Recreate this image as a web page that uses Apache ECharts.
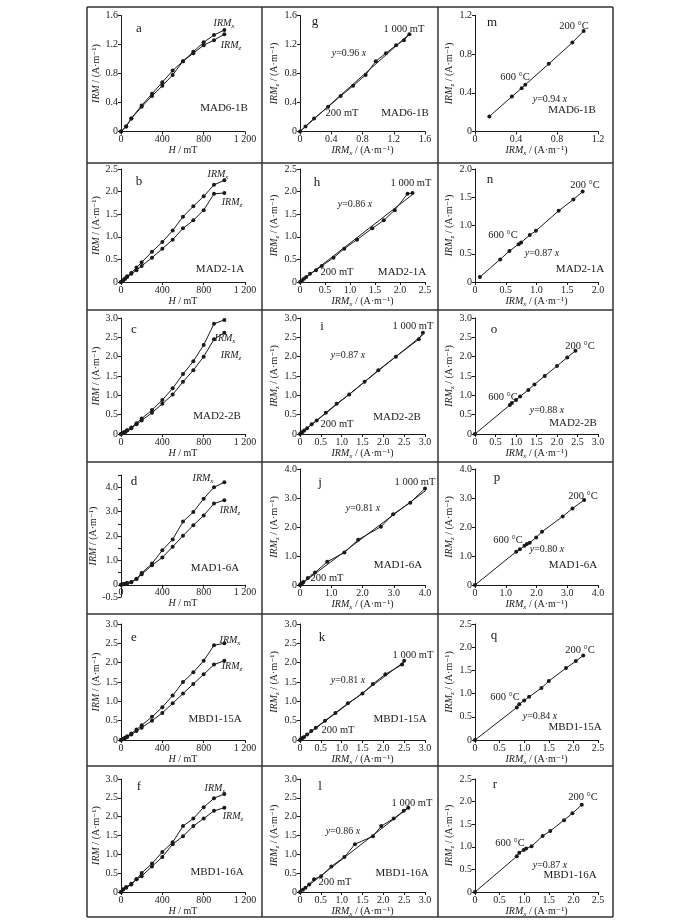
<!DOCTYPE html>
<html><head><meta charset="utf-8">
<script src="https://cdn.jsdelivr.net/npm/echarts@6/dist/echarts.min.js"></script>
<style>html,body{margin:0;padding:0;background:#fff}#c{width:700px;height:924px}</style>
</head><body><div id="c"></div>
<script>
// ---------------- DATA ----------------
const samples = ['MAD6-1B', 'MAD2-1A', 'MAD2-2B', 'MAD1-6A', 'MBD1-15A', 'MBD1-16A'];
const lettersLeft = ['a', 'b', 'c', 'd', 'e', 'f'];
const lettersMid = ['g', 'h', 'i', 'j', 'k', 'l'];
const lettersRight = ['m', 'n', 'o', 'p', 'q', 'r'];

// AF acquisition (H in mT, IRM in A/m)
const H_a = [0, 50, 100, 200, 300, 400, 500, 600, 700, 800, 900, 1000];
const X_a = [0, 0.07, 0.18, 0.36, 0.52, 0.68, 0.84, 0.97, 1.10, 1.23, 1.33, 1.40];
const Z_a = [0, 0.07, 0.18, 0.34, 0.49, 0.63, 0.78, 0.97, 1.08, 1.19, 1.26, 1.34];

const H_b = [0, 20, 40, 60, 100, 150, 200, 300, 400, 500, 600, 700, 800, 900, 1000];
const X_b = [0, 0.04, 0.08, 0.125, 0.2, 0.32, 0.435, 0.67, 0.885, 1.14, 1.445, 1.675, 1.895, 2.15, 2.25];
const Z_b = [0, 0.035, 0.07, 0.11, 0.18, 0.26, 0.354, 0.538, 0.737, 0.937, 1.187, 1.364, 1.59, 1.95, 1.97];

const H_c = [0, 20, 40, 60, 100, 150, 200, 300, 400, 500, 600, 700, 800, 900, 1000];
const X_c = [0, 0.03, 0.06, 0.1, 0.17, 0.28, 0.4, 0.62, 0.88, 1.18, 1.55, 1.88, 2.3, 2.85, 2.95];
const Z_c = [0, 0.03, 0.05, 0.09, 0.15, 0.25, 0.35, 0.55, 0.78, 1.02, 1.35, 1.65, 2.0, 2.45, 2.62];

const H_d = [0, 20, 40, 60, 100, 150, 200, 300, 400, 500, 600, 700, 800, 900, 1000];
const X_d = [0, 0.02, 0.04, 0.07, 0.11, 0.25, 0.48, 0.87, 1.42, 1.86, 2.59, 2.98, 3.53, 4.0, 4.2];
const Z_d = [0, 0.02, 0.04, 0.06, 0.1, 0.24, 0.43, 0.8, 1.12, 1.56, 2.01, 2.44, 2.84, 3.33, 3.47];

const H_e = [0, 20, 40, 60, 100, 150, 200, 300, 400, 500, 600, 700, 800, 900, 1000];
const X_e = [0, 0.03, 0.06, 0.1, 0.17, 0.27, 0.38, 0.6, 0.85, 1.15, 1.5, 1.75, 2.05, 2.45, 2.5];
const Z_e = [0, 0.03, 0.05, 0.08, 0.14, 0.23, 0.32, 0.5, 0.7, 0.95, 1.2, 1.45, 1.7, 1.95, 2.05];

const H_f = [0, 20, 50, 100, 150, 200, 300, 400, 500, 600, 700, 800, 900, 1000];
const X_f = [0, 0.07, 0.13, 0.22, 0.337, 0.506, 0.754, 1.065, 1.32, 1.75, 1.95, 2.25, 2.49, 2.6];
const Z_f = [0, 0.06, 0.11, 0.2, 0.34, 0.42, 0.68, 0.93, 1.27, 1.48, 1.75, 1.95, 2.156, 2.236];

// thermal demagnetization (200 °C ... high T), IRM_x vs IRM_z
const TX_m = [1.06, 0.95, 0.72, 0.49, 0.455, 0.36, 0.14];
const TZ_m = [1.04, 0.92, 0.70, 0.483, 0.448, 0.362, 0.155];
const TX_n = [1.75, 1.60, 1.36, 0.99, 0.89, 0.75, 0.71, 0.56, 0.41, 0.08];
const TZ_n = [1.60, 1.46, 1.26, 0.905, 0.83, 0.70, 0.67, 0.55, 0.40, 0.089];
const TX_o = [2.45, 2.25, 2.0, 1.7, 1.45, 1.3, 1.1, 1.0, 0.9, 0.85, 0];
const TZ_o = [2.15, 1.98, 1.76, 1.5, 1.28, 1.14, 0.97, 0.88, 0.8, 0.75, 0];
const TX_p = [3.55, 3.17, 2.85, 2.18, 1.99, 1.78, 1.69, 1.61, 1.46, 1.34, 0];
const TZ_p = [2.93, 2.64, 2.36, 1.84, 1.64, 1.46, 1.41, 1.35, 1.23, 1.15, 0];
const TX_q = [2.2, 2.05, 1.85, 1.5, 1.35, 1.1, 1.0, 0.9, 0.85, 0];
const TZ_q = [1.82, 1.7, 1.55, 1.27, 1.12, 0.93, 0.85, 0.77, 0.7, 0];
const TX_r = [2.17, 1.98, 1.81, 1.53, 1.375, 1.15, 1.04, 0.99, 0.90, 0.85, 0];
const TZ_r = [1.93, 1.74, 1.59, 1.35, 1.24, 1.01, 0.96, 0.93, 0.87, 0.79, 0];

// fitted slopes
const slopeMid = [0.96, 0.86, 0.87, 0.81, 0.81, 0.86];
const slopeRight = [0.94, 0.87, 0.88, 0.80, 0.84, 0.87];

// axis ranges / tick intervals
const leftYMin = [0, 0, 0, -0.5, 0, 0];
const leftYMax = [1.6, 2.5, 3.0, 4.5, 3.0, 3.0];
const leftYInt = [0.4, 0.5, 0.5, 0.5, 0.5, 0.5];
const hMax = 1200, hInt = 400;
const midMax = [1.6, 2.5, 3.0, 4.0, 3.0, 3.0];
const midInt = [0.4, 0.5, 0.5, 1.0, 0.5, 0.5];
const rightMax = [1.2, 2.0, 3.0, 4.0, 2.5, 2.5];
const rightInt = [0.4, 0.5, 0.5, 1.0, 0.5, 0.5];

const HS = [H_a, H_b, H_c, H_d, H_e, H_f];
const XS = [X_a, X_b, X_c, X_d, X_e, X_f];
const ZS = [Z_a, Z_b, Z_c, Z_d, Z_e, Z_f];
const TXS = [TX_m, TX_n, TX_o, TX_p, TX_q, TX_r];
const TZS = [TZ_m, TZ_n, TZ_o, TZ_p, TZ_q, TZ_r];

// ---------------- LAYOUT ----------------
const FONT = '"Liberation Serif","DejaVu Serif","Times New Roman",serif';
const INK = '#1a1a1a';
const colLeft = [121, 300, 475];
const colW = [124, 125, 123];
const rowTop = [15.5, 169, 318, 469, 624, 779];
const rowH = [116, 113, 116, 116, 116, 113];
const frameX = [87, 262, 438, 613];
const frameY = [7, 163, 310, 462, 614, 766, 917];

// annotation positions per row: [left, mid, right] panels
const ann = [
  { L: {let: [139, 29], ix: [224, 23], iz: [231, 45], s: [224, 108]},
    M: {let: [315, 22], top: [404, 29], sl: [349, 53], low: [342, 113], s: [405, 113]},
    R: {let: [492, 23], top: [574, 26], low: [515, 77], sl: [550, 99], s: [572, 110]} },
  { L: {let: [139, 182], ix: [218, 174], iz: [232, 202], s: [220, 269]},
    M: {let: [317, 183], top: [411, 183], sl: [355, 204], low: [337, 272], s: [402, 272]},
    R: {let: [490, 180], top: [585, 185], low: [503, 235], sl: [542, 253], s: [580, 269]} },
  { L: {let: [134, 330], ix: [225, 338], iz: [231, 355], s: [217, 416]},
    M: {let: [322, 327], top: [413, 326], sl: [348, 355], low: [337, 424], s: [397, 417]},
    R: {let: [494, 330], top: [580, 346], low: [503, 397], sl: [547, 410], s: [573, 423]} },
  { L: {let: [134, 482], ix: [203, 478], iz: [230, 510], s: [215, 568]},
    M: {let: [320, 483], top: [415, 482], sl: [363, 508], low: [327, 578], s: [398, 565]},
    R: {let: [497, 478], top: [583, 496], low: [508, 540], sl: [547, 549], s: [573, 565]} },
  { L: {let: [134, 638], ix: [230, 640], iz: [232, 666], s: [215, 719]},
    M: {let: [322, 638], top: [413, 655], sl: [348, 680], low: [338, 730], s: [400, 719]},
    R: {let: [494, 636], top: [580, 650], low: [505, 697], sl: [540, 716], s: [575, 727]} },
  { L: {let: [139, 787], ix: [215, 788], iz: [233, 816], s: [217, 872]},
    M: {let: [320, 787], top: [412, 803], sl: [343, 831], low: [335, 882], s: [402, 873]},
    R: {let: [495, 785], top: [583, 797], low: [510, 843], sl: [550, 865], s: [570, 875]} }
];

// ---------------- BUILD ----------------
const rich = {
  i: {fontFamily: FONT, fontStyle: 'italic', fontSize: 10, color: INK},
  n: {fontFamily: FONT, fontSize: 10, color: INK},
  s: {fontFamily: FONT, fontStyle: 'italic', fontSize: 7, color: INK, padding: [6, 0, 0, 0]}
};
const fmtNum = v => (Math.abs(v) < 1e-9 ? '0' : v.toFixed(1));
const fmtH = v => (v === 0 ? '0' : String(v).replace(/(\d)(\d{3})$/, '$1 $2'));
const grids = [], xAxes = [], yAxes = [], series = [], graphics = [];

function axisBase(min, max, interval, fmt) {
  return {
    type: 'value', min, max, interval,
    axisLine: {show: true, onZero: false, lineStyle: {color: INK, width: 1}},
    axisTick: {show: true, length: 3, lineStyle: {color: INK}},
    splitLine: {show: false},
    axisLabel: {fontFamily: FONT, fontSize: 10, color: INK, margin: 3, formatter: fmt,
      showMinLabel: true, showMaxLabel: true, hideOverlap: false}
  };
}

function addGrid(col, top, height) {
  grids.push({left: colLeft[col], top, width: colW[col], height, containLabel: false});
  return grids.length - 1;
}

const lineSty = {color: INK, width: 1};
for (let r = 0; r < 6; r++) {
  // ---- left: IRM vs H
  let top = rowTop[r], hh = rowH[r], xOff = 0;
  if (leftYMin[r] < 0) {
    top = 475; hh = 122;
    xOff = -hh * (-leftYMin[r]) / (leftYMax[r] - leftYMin[r]); // put H axis on IRM = 0
  }
  let gi = addGrid(0, top, hh);
  xAxes.push(Object.assign(axisBase(0, hMax, hInt, fmtH), {
    gridIndex: gi, offset: xOff, name: '{i|H}{n| / mT}', nameLocation: 'middle', nameGap: 12,
    nameTextStyle: {rich}
  }));
  const yfmtL = leftYMin[r] < 0
    ? (v => ((Math.abs(v - Math.round(v)) < 1e-9 && v < leftYMax[r] - 0.1) || Math.abs(v - leftYMin[r]) < 1e-9) ? fmtNum(v) : '')
    : fmtNum;
  yAxes.push(Object.assign(axisBase(leftYMin[r], leftYMax[r], leftYInt[r], yfmtL), {
    gridIndex: gi, name: '{i|IRM}{n| / (A·m⁻¹)}', nameLocation: 'middle', nameGap: 18,
    nameRotate: 90, nameTextStyle: {rich}
  }));
  const H = HS[r], X = XS[r], Z = ZS[r];
  series.push({type: 'line', xAxisIndex: gi, yAxisIndex: gi, data: H.map((h, k) => [h, X[k]]),
    symbol: 'circle', symbolSize: 4, itemStyle: {color: INK}, lineStyle: lineSty, clip: true});
  series.push({type: 'line', xAxisIndex: gi, yAxisIndex: gi, data: H.map((h, k) => [h, Z[k]]),
    symbol: 'circle', symbolSize: 4, itemStyle: {color: INK}, lineStyle: lineSty, clip: true});

  // ---- middle: IRM_z vs IRM_x (AF)
  gi = addGrid(1, rowTop[r], rowH[r]);
  xAxes.push(Object.assign(axisBase(0, midMax[r], midInt[r], fmtNum), {
    gridIndex: gi, name: '{i|IRM}{s|x}{n| / (A·m⁻¹)}', nameLocation: 'middle', nameGap: 12,
    nameTextStyle: {rich}
  }));
  yAxes.push(Object.assign(axisBase(0, midMax[r], midInt[r], fmtNum), {
    gridIndex: gi, name: '{i|IRM}{s|z}{n| / (A·m⁻¹)}', nameLocation: 'middle', nameGap: 19,
    nameRotate: 90, nameTextStyle: {rich}
  }));
  series.push({type: 'line', xAxisIndex: gi, yAxisIndex: gi, data: X.map((x, k) => [x, Z[k]]),
    symbol: 'circle', symbolSize: 4, itemStyle: {color: INK}, lineStyle: lineSty, clip: true});
  const xm = Math.max(...X);
  series.push({type: 'line', xAxisIndex: gi, yAxisIndex: gi, data: [[0, 0], [xm, slopeMid[r] * xm]],
    symbol: 'none', lineStyle: lineSty, clip: true});

  // ---- right: thermal
  gi = addGrid(2, rowTop[r], rowH[r]);
  xAxes.push(Object.assign(axisBase(0, rightMax[r], rightInt[r], fmtNum), {
    gridIndex: gi, name: '{i|IRM}{s|x}{n| / (A·m⁻¹)}', nameLocation: 'middle', nameGap: 12,
    nameTextStyle: {rich}
  }));
  yAxes.push(Object.assign(axisBase(0, rightMax[r], rightInt[r], fmtNum), {
    gridIndex: gi, name: '{i|IRM}{s|z}{n| / (A·m⁻¹)}', nameLocation: 'middle', nameGap: 18,
    nameRotate: 90, nameTextStyle: {rich}
  }));
  const TX = TXS[r], TZ = TZS[r];
  series.push({type: 'line', xAxisIndex: gi, yAxisIndex: gi, data: TX.map((x, k) => [x, TZ[k]]),
    symbol: 'circle', symbolSize: 4, itemStyle: {color: INK}, lineStyle: lineSty, clip: true});
}

// ---- frame lines
frameX.forEach(x => graphics.push({type: 'line', shape: {x1: x, y1: frameY[0], x2: x, y2: frameY[6]},
  style: {stroke: '#333', lineWidth: 1.5}}));
frameY.forEach(y => graphics.push({type: 'line', shape: {x1: frameX[0], y1: y, x2: frameX[3], y2: y},
  style: {stroke: '#333', lineWidth: 1.5}}));

// ---- annotations
function txt(pos, text, size) {
  graphics.push({type: 'text', x: pos[0], y: pos[1], z: 10,
    style: {text, fontFamily: FONT, fontSize: size, fill: INK, align: 'center', verticalAlign: 'middle', rich}});
}
for (let r = 0; r < 6; r++) {
  const A = ann[r];
  txt(A.L.let, lettersLeft[r], 13);
  txt(A.L.ix, '{i|IRM}{s|x}', 10);
  txt(A.L.iz, '{i|IRM}{s|z}', 10);
  txt(A.L.s, samples[r], 11);
  txt(A.M.let, lettersMid[r], 13);
  txt(A.M.top, '1 000 mT', 10.5);
  txt(A.M.sl, '{i|y}{n|=' + slopeMid[r].toFixed(2) + ' }{i|x}', 10);
  txt(A.M.low, '200 mT', 10.5);
  txt(A.M.s, samples[r], 11);
  txt(A.R.let, lettersRight[r], 13);
  txt(A.R.top, '200 °C', 10.5);
  txt(A.R.low, '600 °C', 10.5);
  txt(A.R.sl, '{i|y}{n|=' + slopeRight[r].toFixed(2) + ' }{i|x}', 10);
  txt(A.R.s, samples[r], 11);
}

const chart = echarts.init(document.getElementById('c'), null, {renderer: 'canvas'});
chart.setOption({
  animation: false,
  backgroundColor: '#fff',
  grid: grids, xAxis: xAxes, yAxis: yAxes, series, graphic: graphics
});
</script></body></html>
